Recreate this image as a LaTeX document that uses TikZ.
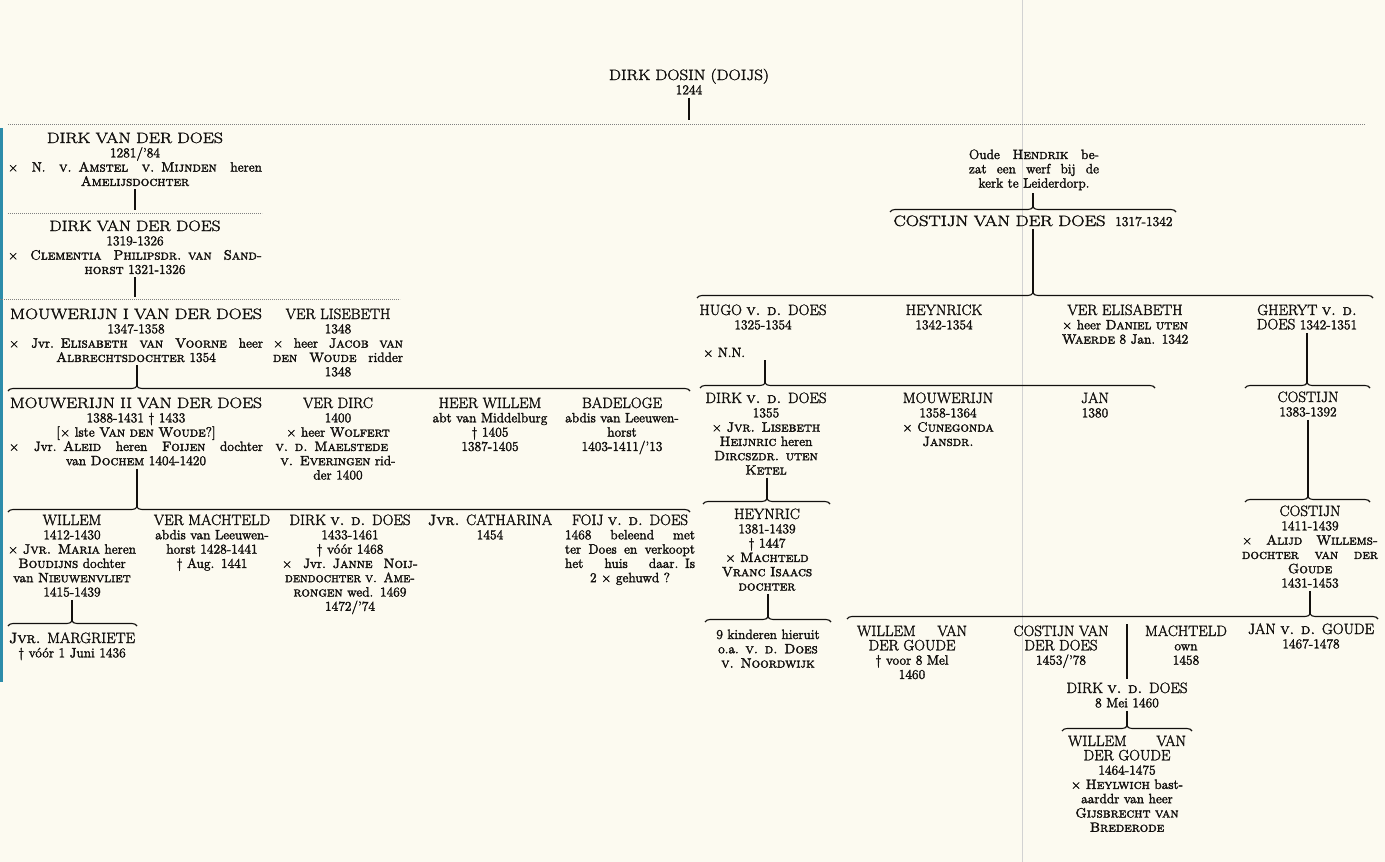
\documentclass[tikz,border=0pt]{standalone}
\usepackage{graphicx}
\usetikzlibrary{decorations.pathreplacing}
\definecolor{paper}{RGB}{252,250,240}
\definecolor{ink}{RGB}{18,16,14}
\definecolor{edge}{RGB}{45,140,170}
\newcommand\nm[1]{{\fontsize{15}{14.3}\selectfont #1}}
\newcommand\wide[2]{\resizebox{#1}{\height}{#2}}
\newcommand\spread[2]{\makebox[#1][s]{\spaceskip=.3333em plus 1fil\relax #2}}
\newcommand\full[1]{\spread{\hsize}{#1}}
\newcommand\heavy{\special{pdf:literal direct 2 Tr 0.3 w}}
\begin{document}
\begin{tikzpicture}[x=1pt,y=-1pt,
  gen/.style={align=center,anchor=base,inner sep=0pt,text=ink,font=\fontsize{13.5}{14.3}\selectfont\heavy},
  stem/.style={ink,line width=1.6pt,shorten <=3pt},
  fam/.style={ink,line width=1.1pt,decorate,decoration={brace,amplitude=5pt,aspect=#1}},
  dots/.style={gray,line width=0.6pt,dash pattern=on 0.6pt off 1.4pt}]
\fill[paper] (0,0) rectangle (1385,862);
\useasboundingbox (0,0) rectangle (1385,862);
\fill[edge] (0,128) rectangle (3,682);
\draw[gray!35,line width=0.8pt] (1022,0) -- (1022,862);

\node[gen,text width=200pt] (dosin) at (689,80) {\wide{160pt}{\nm{DIRK DOSIN (DOIJS)}}\\1244};
\coordinate (dosinfoot) at (689,120);
\draw[dots] (8,124) -- (1365,124);
\draw[stem] (dosin.south) -- (dosinfoot);

\node[gen,text width=254pt] (dvd1) at (135,143) {\wide{176pt}{\nm{DIRK VAN DER DOES}}\\1281/’84\\\full{× N. \textsc{v. Amstel v. Mijnden} heren}\\\textsc{Amelijsdochter}};
\coordinate (dvd1foot) at (135,210);
\draw[stem] (dvd1.south) -- (dvd1foot);
\draw[dots] (8,213) -- (262,213);
\node[gen,text width=254pt] (dvd2) at (135,231) {\wide{171pt}{\nm{DIRK VAN DER DOES}}\\1319-1326\\\full{× \textsc{Clementia Philipsdr. van Sand-}}\\\textsc{horst} 1321-1326};
\coordinate (dvd2foot) at (135,297);
\draw[stem] (dvd2.south) -- (dvd2foot);
\draw[dots] (0,299) -- (400,299);

\node[gen,text width=254pt] (mouw1) at (136,319) {\wide{252pt}{\nm{MOUWERIJN I VAN DER DOES}}\\1347-1358\\\full{× Jvr. \textsc{Elisabeth van Voorne} heer}\\\textsc{Albrechtsdochter} 1354};
\node[gen,text width=130pt] (lisebeth) at (338,319) {\nm{VER LISEBETH}\\1348\\\full{× heer \textsc{Jacob van}}\\\full{\textsc{den Woude} ridder}\\1348};
\coordinate (fam1a) at (8,391);
\coordinate (fam1b) at (690,391);
\coordinate (fam1t) at (137,386);
\draw[fam=0.189] (fam1a) -- (fam1b);
\draw[stem] (mouw1.south -| fam1t) -- (fam1t);

\node[gen,text width=254pt] (mouw2) at (136,408) {\wide{252pt}{\nm{MOUWERIJN II VAN DER DOES}}\\1388-1431 † 1433\\{[}× lste \textsc{Van den Woude}?{]}\\\full{× Jvr. \textsc{Aleid} heren \textsc{Foijen} dochter}\\van \textsc{Dochem} 1404-1420};
\node[gen,text width=125pt] (verdirc) at (338,408) {\nm{VER DIRC}\\1400\\× heer \textsc{Wolfert}\\\full{\textsc{v. d. Maelstede}}\\\textsc{v. Everingen} rid-\\der 1400};
\node[gen,text width=128pt] (heerwillem) at (490,408) {\nm{HEER WILLEM}\\abt van Middelburg\\† 1405\\1387-1405};
\node[gen,text width=128pt] (badeloge) at (622,408) {\nm{BADELOGE}\\abdis van Leeuwen-\\horst\\1403-1411/’13};
\coordinate (fam2a) at (8,512);
\coordinate (fam2b) at (690,512);
\coordinate (fam2t) at (137,507);
\draw[fam=0.189] (fam2a) -- (fam2b);
\draw[stem] (mouw2.south -| fam2t) -- (fam2t);

\node[gen,text width=130pt] (willem) at (72,525) {\nm{WILLEM}\\1412-1430\\× \textsc{Jvr. Maria} heren\\\textsc{Boudijns} dochter\\van \textsc{Nieuwenvliet}\\1415-1439};
\node[gen,text width=132pt] (machteld) at (212,525) {\nm{VER MACHTELD}\\abdis van Leeuwen-\\horst 1428-1441\\† Aug. 1441};
\node[gen,text width=136pt] (dirkdoes) at (350,525) {\nm{DIRK \textsc{v. d.} DOES}\\1433-1461\\† vóór 1468\\\full{× Jvr. \textsc{Janne Noij-}}\\\wide{130pt}{\textsc{dendochter v. Ame-}}\\\textsc{rongen} wed. 1469\\1472/’74};
\node[gen,text width=140pt] (catharina) at (490,525) {\nm{\textsc{Jvr.} CATHARINA}\\1454};
\node[gen,text width=130pt] (foij) at (630,525) {\nm{FOIJ \textsc{v. d.} DOES}\\\full{1468 beleend met}\\\full{ter Does en verkoopt}\\\full{het huis daar. Is}\\2 × gehuwd ?};
\coordinate (fam3a) at (8,626);
\coordinate (fam3b) at (137,626);
\coordinate (fam3t) at (72,621);
\draw[fam=0.496] (fam3a) -- (fam3b);
\draw[stem] (willem.south -| fam3t) -- (fam3t);
\node[gen,text width=130pt] (margriete) at (72,643) {\nm{\textsc{Jvr.} MARGRIETE}\\† vóór 1 Juni 1436};

\node[gen,text width=130pt] (hendrik) at (1034,159) {\full{Oude \textsc{Hendrik} be-}\\\full{zat een werf bij de}\\kerk te Leiderdorp.};
\coordinate (famr0a) at (890,212);
\coordinate (famr0b) at (1176,212);
\coordinate (famr0t) at (1033,207);
\draw[fam=0.5] (famr0a) -- (famr0b);
\draw[stem] (hendrik.south -| famr0t) -- (famr0t);
\node[gen,text width=279pt] (costijn1) at (1033,226) {\full{\wide{212pt}{\nm{COSTIJN VAN DER DOES}} 1317-1342}};
\coordinate (famr1a) at (697,298);
\coordinate (famr1b) at (1373,298);
\coordinate (famr1t) at (1033,293);
\draw[fam=0.497] (famr1a) -- (famr1b);
\draw[stem] (costijn1.south -| famr1t) -- (famr1t);

\node[gen,text width=136pt] (hugo) at (763,315) {\nm{HUGO \textsc{v. d.} DOES}\\1325-1354};
\node[gen,anchor=base west] (hugomar) at (703,357) {× N.N.};
\node[gen,text width=110pt] (heynrick) at (944,315) {\nm{HEYNRICK}\\1342-1354};
\node[gen,text width=132pt] (verelis) at (1125,315) {\nm{VER ELISABETH}\\× heer \textsc{Daniel uten}\\\textsc{Waerde} 8 Jan. 1342};
\node[gen,text width=122pt] (gheryt) at (1307,315) {\nm{GHERYT \textsc{v. d.}}\\\nm{DOES} 1342-1351};
\coordinate (famha) at (700,388);
\coordinate (famhb) at (1155,388);
\coordinate (famht) at (765,383);
\draw[fam=0.143] (famha) -- (famhb);
\draw[stem] (hugomar.south -| famht) -- (famht);
\coordinate (famga) at (1245,388);
\coordinate (famgb) at (1370,388);
\coordinate (famgt) at (1307,383);
\draw[fam=0.496] (famga) -- (famgb);
\draw[stem] (gheryt.south -| famgt) -- (famgt);

\node[gen,text width=136pt] (dirk1355) at (766,403) {\nm{DIRK \textsc{v. d.} DOES}\\1355\\× \textsc{Jvr. Lisebeth}\\\textsc{Heijnric} heren\\\textsc{Dircszdr. uten}\\\textsc{Ketel}};
\node[gen,text width=120pt] (mouwerijn) at (948,403) {\nm{MOUWERIJN}\\1358-1364\\× \textsc{Cunegonda}\\\textsc{Jansdr.}};
\node[gen,text width=60pt] (jan) at (1095,403) {\nm{JAN}\\1380};
\node[gen,text width=100pt] (costijn2) at (1308,402) {\nm{COSTIJN}\\1383-1392};
\coordinate (famc2a) at (1245,502);
\coordinate (famc2b) at (1370,502);
\coordinate (famc2t) at (1308,497);
\draw[fam=0.504] (famc2a) -- (famc2b);
\draw[stem] (costijn2.south -| famc2t) -- (famc2t);
\node[gen,text width=136pt] (costijn3) at (1310,516) {\nm{COSTIJN}\\1411-1439\\\full{× \textsc{Alijd Willems-}}\\\full{\textsc{dochter van der}}\\\textsc{Goude}\\1431-1453};

\coordinate (famda) at (703,504);
\coordinate (famdb) at (830,504);
\coordinate (famdt) at (767,499);
\draw[fam=0.504] (famda) -- (famdb);
\draw[stem] (dirk1355.south -| famdt) -- (famdt);
\node[gen,text width=116pt] (heynric) at (767,519) {\nm{HEYNRIC}\\1381-1439\\† 1447\\× \textsc{Machteld}\\\textsc{Vranc Isaacs}\\\textsc{dochter}};
\coordinate (famka) at (705,622);
\coordinate (famkb) at (831,622);
\coordinate (famkt) at (768,617);
\draw[fam=0.5] (famka) -- (famkb);
\draw[stem] (heynric.south -| famkt) -- (famkt);
\node[gen,text width=120pt] (kinderen) at (768,639) {9 kinderen hieruit\\o.a. \textsc{v. d. Does}\\\textsc{v. Noordwijk}};

\coordinate (famc3a) at (847,619);
\coordinate (famc3b) at (1378,619);
\coordinate (famc3t) at (1310,614);
\draw[fam=0.872] (famc3a) -- (famc3b);
\draw[stem] (costijn3.south -| famc3t) -- (famc3t);
\node[gen,text width=110pt] (willemvdg) at (912,636) {\full{\nm{WILLEM VAN}}\\\nm{DER GOUDE}\\† voor 8 Mel\\1460};
\node[gen,text width=112pt] (costijn4) at (1061,636) {\nm{COSTIJN VAN}\\\nm{DER DOES}\\1453/’78};
\node[gen,text width=92pt] (machteld2) at (1186,636) {\nm{MACHTELD}\\own\\1458};
\node[gen,text width=136pt] (jangoude) at (1311,634) {\nm{JAN \textsc{v. d.} GOUDE}\\1467-1478};
\node[gen,text width=136pt] (dirk1460) at (1127,693) {\nm{DIRK \textsc{v. d.} DOES}\\8 Mei 1460};
\coordinate (marr) at (1127,624);
\draw[stem,line width=1.3pt,shorten <=0pt,shorten >=3pt] (marr) -- (dirk1460.north);
\coordinate (famwa) at (1062,731);
\coordinate (famwb) at (1192,731);
\coordinate (famwt) at (1127,726);
\draw[fam=0.5] (famwa) -- (famwb);
\draw[stem] (dirk1460.south -| famwt) -- (famwt);
\node[gen,text width=118pt] (willem1464) at (1127,746) {\full{\nm{WILLEM VAN}}\\\nm{DER GOUDE}\\1464-1475\\× \textsc{Heylwich} bast-\\aarddr van heer\\\textsc{Gijsbrecht van}\\\textsc{Brederode}};
\end{tikzpicture}
\end{document}
